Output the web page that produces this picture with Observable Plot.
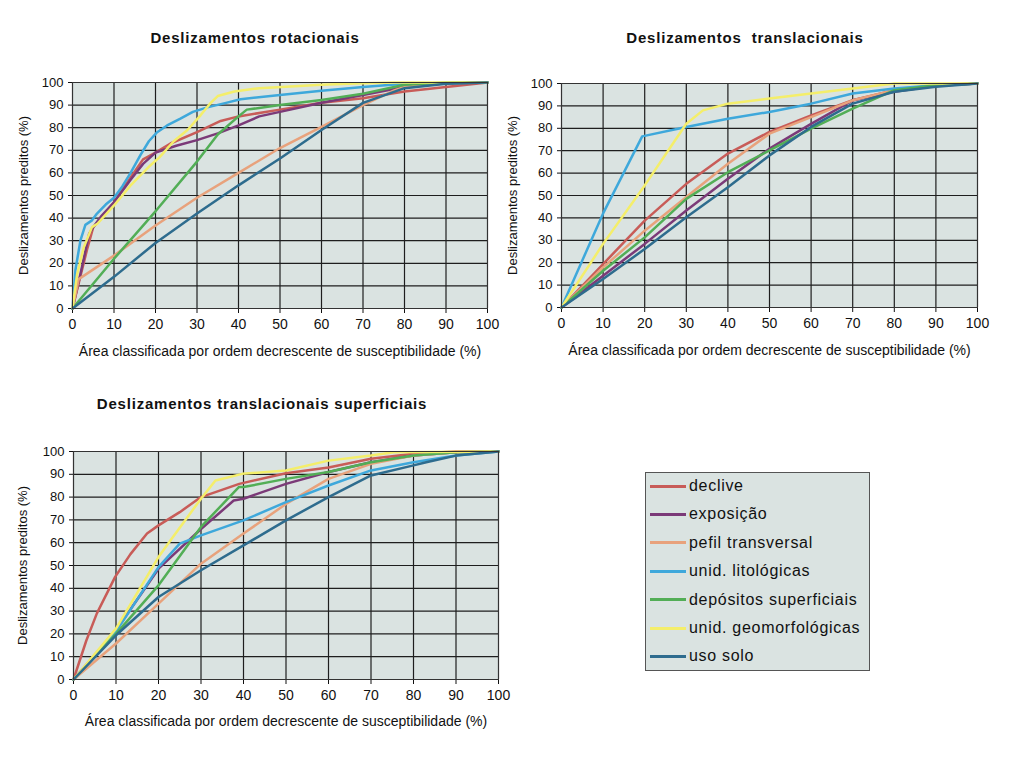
<!DOCTYPE html>
<html><head><meta charset="utf-8">
<script src="https://cdn.jsdelivr.net/npm/d3@7"></script>
<script src="https://cdn.jsdelivr.net/npm/@observablehq/plot@0.6"></script>
<style>
body{margin:0;background:#fff;font-family:"Liberation Sans",Arial,sans-serif;}
#root{position:relative;width:1023px;height:763px;overflow:hidden;background:#fff;}
.chart{position:absolute;}
.title{position:absolute;font-weight:bold;font-size:15px;letter-spacing:0.8px;transform:translate(-50%,-50%);white-space:pre;color:#111;}
#legend{position:absolute;left:645px;top:472px;width:223px;height:197px;border:1px solid #555;background:#dae3e1;}
.lg{position:absolute;left:4px;height:20px;display:flex;align-items:center;font-size:16px;letter-spacing:0.7px;color:#111;white-space:nowrap;}
.lg .sw{width:36px;height:3px;margin-right:3px;}
</style></head><body><div id="root"></div>
<script>
// ---- series / categories ----
const seriesNames = ["declive","exposição","pefil transversal","unid. litológicas","depósitos superficiais","unid. geomorfológicas","uso solo"];
const seriesColors = ["#c85c58","#7b3a78","#e8a27c","#3ea8db","#52ae56","#f4ee6a","#2e6c8e"];
const xTicks = [0,10,20,30,40,50,60,70,80,90,100];
const yTicks = [0,10,20,30,40,50,60,70,80,90,100];
const titles = ["Deslizamentos rotacionais","Deslizamentos  translacionais","Deslizamentos translacionais superficiais"];
const xLabel = "Área classificada por ordem decrescente de susceptibilidade (%)";
const yLabel = "Deslizamentos preditos (%)";

// ---- Deslizamentos rotacionais ----
const rot_declive = [[0,0],[2,15],[3.5,26],[5,36],[7,40],[10,47],[14,58],[17,66],[20,69],[23.6,73],[30,78],[35.7,83],[40,85],[50,88],[60,91],[70,93],[80,96],[90,98],[100,100]];
const rot_exposicao = [[0,0],[2,16],[4,33],[5,36],[7,41],[10,47],[14,57],[17,64],[20,69],[25,72],[30,74.5],[35,77.5],[40,81],[45,85],[50,87],[60,91],[70,94.5],[80,98],[90,99.7],[100,100]];
const rot_pefil = [[0,0],[1.5,13],[10,23.4],[20,36.7],[30,49],[40,60],[50,71],[60,80.4],[70,90],[77.5,96.5],[80,98],[90,99.7],[100,100]];
const rot_litologicas = [[0,0],[0.7,17],[1.9,30],[3.1,37],[4.7,39],[5.9,42],[8,46],[10,49],[12,54],[14,60],[16.4,68],[18.4,74],[20.4,78],[22.8,81],[26,84],[29,87],[32.5,89],[37,91],[40.5,92.6],[50,94.5],[60,96.4],[70,98],[80,99.4],[100,100]];
const rot_depositos = [[0,0],[10,22],[20,43],[30,65],[35,77],[40,85],[42,88],[50,90],[60,92.3],[70,95],[80,99],[90,100],[100,100]];
const rot_geomorf = [[0,0],[1.1,15],[2.7,27],[4.7,36],[6,37.5],[10,45.6],[14,54.5],[18.8,63.4],[21,67],[24.4,74],[27.7,79],[30.9,85.6],[33.3,91],[35,94],[39,96],[45,97.5],[60,99],[70,99.7],[77.5,100],[100,100]];
const rot_usosolo = [[0,0],[10,14],[20,29],[30,42],[40,54.5],[50,66.4],[60,79],[70,91],[80,97.5],[90,99.4],[100,100]];

// ---- Deslizamentos translacionais ----
const tra_declive = [[0,0],[10,19.4],[20,38.8],[30,55.2],[40,68.7],[50,78.4],[60,85.8],[70,92.5],[80,97],[90,99.2],[100,100]];
const tra_exposicao = [[0,0],[10,14.2],[20,28.4],[30,43.3],[40,57.5],[50,70.9],[60,82],[70,92.5],[80,96.3],[90,99],[100,100]];
const tra_pefil = [[0,0],[10,17.9],[20,34.3],[30,49.3],[40,64.2],[50,77.6],[60,85],[70,92.5],[80,97],[90,99.5],[100,100]];
const tra_litologicas = [[0,0],[10,42],[19.4,76.4],[30,80.6],[40,84.3],[50,87.3],[60,91],[70,95.5],[80,97.8],[90,99.2],[100,100]];
const tra_depositos = [[0,0],[10,16.4],[20,31.3],[30,48.5],[40,60.4],[50,70.1],[60,79.9],[70,88.8],[80,97],[90,99.2],[100,100]];
const tra_geomorf = [[0,0],[10,28.4],[20,54.5],[27.8,76],[30,82],[34,88],[40,91],[50,93.3],[60,95.5],[70,97.8],[80,100],[100,100]];
const tra_usosolo = [[0,0],[10,12.7],[20,26.1],[30,40.3],[40,53.7],[50,67.9],[60,80.6],[70,91],[80,96.3],[90,98.5],[100,100]];

// ---- Deslizamentos translacionais superficiais ----
const sup_declive = [[0,0],[3,17],[5.5,29],[9.8,45],[13.4,55],[17.3,64],[20,67.6],[25,73.4],[30,80],[39,85.8],[50,90.5],[60,93],[70,96.8],[80,99],[90,100],[100,100]];
const sup_exposicao = [[0,0],[10,21.6],[20,48.6],[30,66],[37.7,78.5],[40,79.3],[50,85.8],[60,91],[70,95.3],[80,98.2],[90,99.7],[100,100]];
const sup_pefil = [[0,0],[10,15.8],[20,33.3],[30,50.8],[40,64],[50,77],[60,88],[70,94.6],[80,98.2],[90,99.7],[100,100]];
const sup_litologicas = [[0,0],[10,21],[20,49.3],[25,59.6],[30,63.2],[40,69.8],[50,77.8],[60,85.1],[70,91.7],[80,95.3],[90,98.2],[100,100]];
const sup_depositos = [[0,0],[10,20],[20,41.3],[30,66.9],[38.9,84.4],[40,84.4],[50,88],[60,91],[70,95.3],[80,98.2],[90,99.7],[100,100]];
const sup_geomorf = [[0,0],[10,22.3],[20,53.7],[22.8,61],[30,79.3],[33.4,87.3],[39.7,90.2],[50,91.7],[60,96],[70,98.2],[75.4,99.7],[100,100]];
const sup_usosolo = [[0,0],[10,19.4],[20,36.2],[30,47.9],[40,58.8],[50,69.8],[60,80],[70,89.5],[80,93.9],[83,95.3],[90,98.2],[100,100]];

const rotSeries = [rot_declive,rot_exposicao,rot_pefil,rot_litologicas,rot_depositos,rot_geomorf,rot_usosolo];
const traSeries = [tra_declive,tra_exposicao,tra_pefil,tra_litologicas,tra_depositos,tra_geomorf,tra_usosolo];
const supSeries = [sup_declive,sup_exposicao,sup_pefil,sup_litologicas,sup_depositos,sup_geomorf,sup_usosolo];

function toRows(list){
  const rows = [];
  list.forEach((pts,i)=>pts.forEach(([x,y])=>rows.push({x,y,s:seriesNames[i]})));
  return rows;
}

const plotBg = "#dae3e1";

function makeChart(series, o){
  return Plot.plot({
    width:o.width, height:o.height,
    marginLeft:o.ml, marginRight:o.mr, marginTop:o.mt, marginBottom:o.mb,
    style:{fontFamily:"'Liberation Sans', Arial, sans-serif", fontSize:"13px", background:"transparent", color:"#111", overflow:"visible"},
    x:{domain:[0,100], ticks:xTicks, tickSize:5, tickPadding:6, label:null},
    y:{domain:[0,100], ticks:yTicks, tickSize:4, tickPadding:5, label:null},
    color:{domain:seriesNames, range:seriesColors},
    marks:[
      Plot.frame({fill:plotBg}),
      Plot.gridX(xTicks,{stroke:"#1e1e1e", strokeOpacity:1, strokeWidth:1.2}),
      Plot.gridY(yTicks,{stroke:"#1e1e1e", strokeOpacity:1, strokeWidth:1.2}),
      Plot.axisX({ticks:xTicks, tickSize:5, tickPadding:6, label:xLabel, labelAnchor:"center", labelOffset:o.xlo, labelArrow:"none", fontSize:14}),
      Plot.axisY({ticks:yTicks, tickSize:4, tickPadding:5, label:yLabel, labelAnchor:"center", labelOffset:o.ylo, labelArrow:"none", fontSize:13}),
      Plot.line(toRows(series),{x:"x", y:"y", z:"s", stroke:"s", strokeWidth:2.5}),
      Plot.frame({stroke:"#333"})
    ]
  });
}

const root = document.getElementById("root");
function place(el, left, top){
  const d = document.createElement("div");
  d.className = "chart"; d.style.left = left+"px"; d.style.top = top+"px";
  d.appendChild(el); root.appendChild(d);
}
place(makeChart(rotSeries,{width:505,height:370,ml:72,mr:18,mt:82,mb:62,xlo:47,ylo:54}),0,0);
place(makeChart(traSeries,{width:510,height:370,ml:71,mr:23,mt:83,mb:63,xlo:47,ylo:54}),490,0);
place(makeChart(supSeries,{width:520,height:390,ml:73,mr:22,mt:81,mb:81,xlo:46,ylo:56}),0,370);

function title(txt,cx,cy){
  const t=document.createElement("div"); t.className="title"; t.textContent=txt;
  t.style.left=cx+"px"; t.style.top=cy+"px"; root.appendChild(t);
}
title(titles[0],255,37);
title(titles[1],745,37);
title(titles[2],262,403);

const lg=document.createElement("div"); lg.id="legend";
seriesNames.forEach((n,i)=>{
  const r=document.createElement("div"); r.className="lg"; r.style.top=(3+i*28.4)+"px";
  const sw=document.createElement("div"); sw.className="sw"; sw.style.background=seriesColors[i];
  const tx=document.createElement("span"); tx.textContent=n;
  r.appendChild(sw); r.appendChild(tx); lg.appendChild(r);
});
root.appendChild(lg);
</script></body></html>
